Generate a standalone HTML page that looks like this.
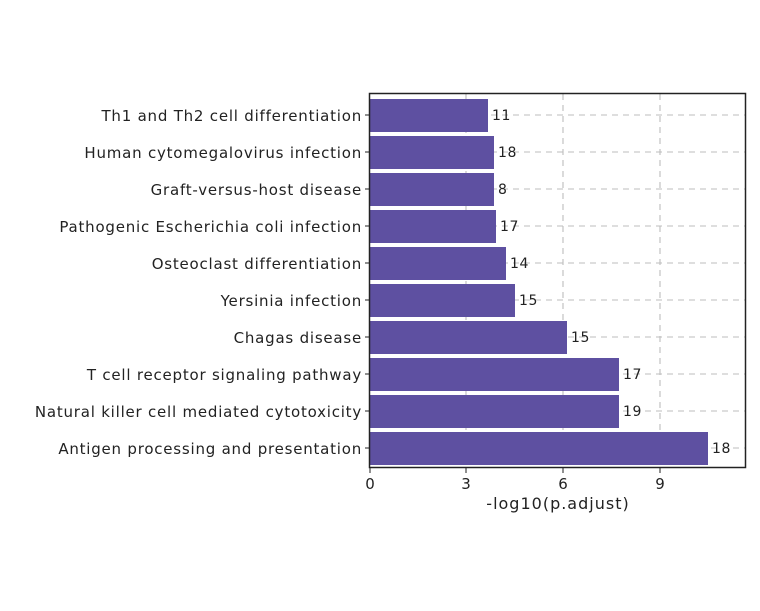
<!DOCTYPE html>
<html><head><meta charset="utf-8"><style>body{margin:0;background:#fff}</style></head><body>
<svg width="760" height="606" xmlns="http://www.w3.org/2000/svg" font-family="DejaVu Sans, sans-serif">
<rect width="760" height="606" fill="#fff"/>
<g stroke="#bdbdbd" stroke-dasharray="6,5" stroke-width="1.1">
<line x1="466" y1="94" x2="466" y2="467"/><line x1="563" y1="94" x2="563" y2="467"/><line x1="660" y1="94" x2="660" y2="467"/>
<line x1="370" y1="115" x2="745" y2="115"/><line x1="370" y1="152" x2="745" y2="152"/><line x1="370" y1="189" x2="745" y2="189"/><line x1="370" y1="226" x2="745" y2="226"/><line x1="370" y1="263" x2="745" y2="263"/><line x1="370" y1="300" x2="745" y2="300"/><line x1="370" y1="337" x2="745" y2="337"/><line x1="370" y1="374" x2="745" y2="374"/><line x1="370" y1="411" x2="745" y2="411"/><line x1="370" y1="448" x2="745" y2="448"/>
</g>
<g fill="#5e50a1">
<rect x="370" y="99" width="118" height="33"/>
<rect x="370" y="136" width="124" height="33"/>
<rect x="370" y="173" width="124" height="33"/>
<rect x="370" y="210" width="126" height="33"/>
<rect x="370" y="247" width="136" height="33"/>
<rect x="370" y="284" width="145" height="33"/>
<rect x="370" y="321" width="197" height="33"/>
<rect x="370" y="358" width="249" height="33"/>
<rect x="370" y="395" width="249" height="33"/>
<rect x="370" y="432" width="338" height="33"/>
</g>
<g font-size="14" fill="#222" dominant-baseline="central" letter-spacing="0.6">
<text x="492" y="116">11</text><text x="498" y="153">18</text><text x="498" y="190">8</text><text x="500" y="227">17</text><text x="510" y="264">14</text><text x="519" y="301">15</text><text x="571" y="338">15</text><text x="623" y="375">17</text><text x="623" y="412">19</text><text x="712" y="449">18</text>
</g>
<rect x="369.5" y="93.5" width="376" height="374" fill="none" stroke="#222" stroke-width="1.5"/>
<g stroke="#222" stroke-width="1">
<line x1="365" y1="115" x2="370" y2="115"/><line x1="365" y1="152" x2="370" y2="152"/><line x1="365" y1="189" x2="370" y2="189"/><line x1="365" y1="226" x2="370" y2="226"/><line x1="365" y1="263" x2="370" y2="263"/><line x1="365" y1="300" x2="370" y2="300"/><line x1="365" y1="337" x2="370" y2="337"/><line x1="365" y1="374" x2="370" y2="374"/><line x1="365" y1="411" x2="370" y2="411"/><line x1="365" y1="448" x2="370" y2="448"/>
<line x1="370" y1="468" x2="370" y2="473"/><line x1="466" y1="468" x2="466" y2="473"/><line x1="563" y1="468" x2="563" y2="473"/><line x1="660" y1="468" x2="660" y2="473"/>
</g>
<g font-size="15" fill="#222" text-anchor="end" dominant-baseline="central" letter-spacing="0.78">
<text x="362" y="116">Th1 and Th2 cell differentiation</text>
<text x="362" y="153">Human cytomegalovirus infection</text>
<text x="362" y="190">Graft-versus-host disease</text>
<text x="362" y="227">Pathogenic Escherichia coli infection</text>
<text x="362" y="264">Osteoclast differentiation</text>
<text x="362" y="301">Yersinia infection</text>
<text x="362" y="338">Chagas disease</text>
<text x="362" y="375">T cell receptor signaling pathway</text>
<text x="362" y="412">Natural killer cell mediated cytotoxicity</text>
<text x="362" y="449">Antigen processing and presentation</text>
</g>
<g font-size="15" fill="#222" text-anchor="middle">
<text x="370" y="489">0</text><text x="466" y="489">3</text><text x="563" y="489">6</text><text x="660" y="489">9</text>
<text x="558" y="509" font-size="16" letter-spacing="1">-log10(p.adjust)</text>
</g>
</svg>
</body></html>
